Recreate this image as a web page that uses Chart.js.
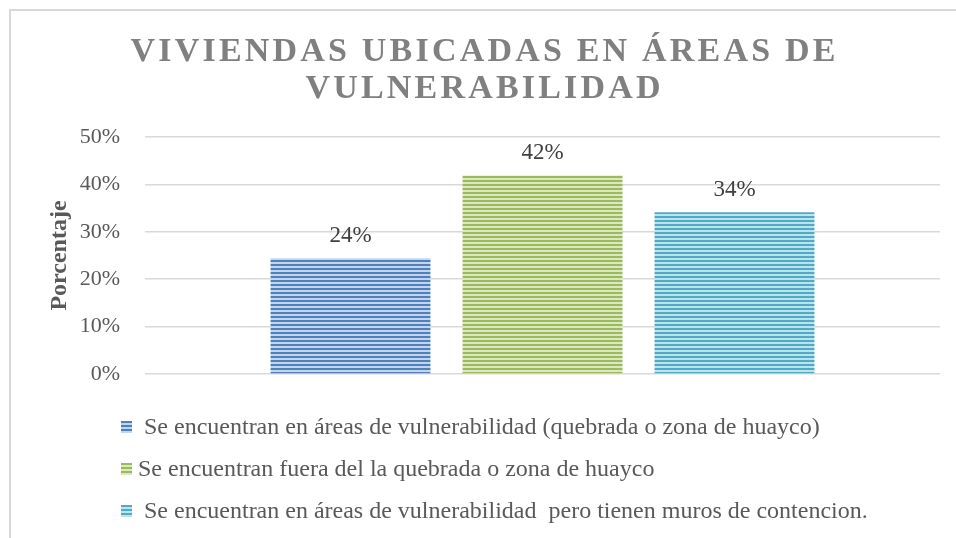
<!DOCTYPE html>
<html>
<head>
<meta charset="utf-8">
<script src="https://cdn.jsdelivr.net/npm/chart.js@4/dist/chart.umd.min.js"></script>
<style>
  html, body { margin: 0; padding: 0; background: #fff; }
  #wrap { position: relative; width: 956px; height: 538px; overflow: hidden; }
  #frame {
    position: absolute; left: 9px; top: 9px; right: -5px; bottom: -5px;
    border-left: 2px solid #d9d9d9; border-top: 2px solid #d9d9d9;
  }
  #title {
    position: absolute; left: 10px; width: 946px; top: 31px;
    text-align: center; font-family: "Liberation Serif", "Times New Roman", serif;
    font-weight: bold; font-size: 34px; line-height: 37px; letter-spacing: 3.2px;
    padding-left: 3.2px; box-sizing: border-box; color: #808080;
  }
  #chart { position: absolute; left: 0; top: 0; }
  #legend {
    position: absolute; left: 121px; top: 408px;
    font-family: "Liberation Serif", "Times New Roman", serif;
    font-size: 24px; color: #595959;
  }
  #legend .item { height: 42px; line-height: 36px; white-space: pre; }
  #legend .box { display: inline-block; width: 11px; height: 12px; vertical-align: 1px; }
</style>
</head>
<body>
<div id="wrap">
  <div id="frame"></div>
  <canvas id="chart" width="956" height="538"></canvas>
  <div id="title">VIVIENDAS UBICADAS EN ÁREAS DE<br>VULNERABILIDAD</div>
  <div id="legend"></div>
</div>
<script>
  // chart data
  const seriesNames = [
    "Se encuentran en áreas de vulnerabilidad (quebrada o zona de huayco)",
    "Se encuentran fuera del la quebrada o zona de huayco",
    "Se encuentran en áreas de vulnerabilidad  pero tienen muros de contencion."
  ];
  const seriesValues = [24.4, 41.9, 34.1];
  const darkColors = ["#4f81bd", "#9bbb59", "#4bacc6"];
  const lightColors = ["#c3d5ea", "#dce8c4", "#c0e2eb"];
  const yTicks = [0, 10, 20, 30, 40, 50];

  // legend text spacing as in the picture (the green one sits closer to its box)
  const legendGaps = [" ", "", " "];

  function stripes(dark, light) {
    const c = document.createElement("canvas");
    c.width = 8;
    c.height = 4;
    const g = c.getContext("2d");
    g.fillStyle = light;
    g.fillRect(0, 0, 8, 4);
    g.fillStyle = dark;
    g.fillRect(0, 0, 8, 2);
    return g.createPattern(c, "repeat");
  }

  const ctx = document.getElementById("chart").getContext("2d");

  const datasets = seriesNames.map((name, i) => ({
    label: name,
    data: [seriesValues[i]],
    backgroundColor: stripes(darkColors[i], lightColors[i]),
    borderWidth: 0,
    categoryPercentage: 0.7245,
    barPercentage: 0.833
  }));

  const valueLabels = {
    id: "valueLabels",
    afterDatasetsDraw(chart) {
      const c = chart.ctx;
      c.save();
      c.font = "23px 'Liberation Serif', 'Times New Roman', serif";
      c.fillStyle = "#404040";
      c.textAlign = "center";
      c.textBaseline = "alphabetic";
      chart.data.datasets.forEach((ds, i) => {
        const bar = chart.getDatasetMeta(i).data[0];
        c.fillText(Math.round(ds.data[0]) + "%", bar.x, bar.y - 16);
      });
      c.restore();
    }
  };

  const chart = new Chart(ctx, {
    type: "bar",
    data: { labels: [""], datasets: datasets },
    plugins: [valueLabels],
    options: {
      responsive: false,
      animation: false,
      layout: { padding: { top: 137, right: 16, bottom: 164, left: 0 } },
      plugins: {
        legend: { display: false },
        title: { display: false },
        tooltip: { enabled: false }
      },
      scales: {
        x: { display: false },
        y: {
          min: 0,
          max: 50,
          afterFit(scale) { scale.width = 145; },
          afterBuildTicks(scale) { scale.ticks = yTicks.map(v => ({ value: v })); },
          ticks: {
            padding: 25,
            color: "#595959",
            font: { family: "'Liberation Serif', 'Times New Roman', serif", size: 22 },
            callback: v => v + "%"
          },
          grid: { color: "#d9d9d9", lineWidth: 1.5, drawTicks: false },
          border: { display: false },
          title: {
            display: true,
            text: "Porcentaje",
            color: "#595959",
            padding: { top: 45, bottom: 0 },
            font: { family: "'Liberation Serif', 'Times New Roman', serif", size: 24, weight: "bold" }
          }
        }
      }
    }
  });

  // legend under the plot, one row per series
  const legend = document.getElementById("legend");
  seriesNames.forEach((name, i) => {
    const row = document.createElement("div");
    row.className = "item";
    const box = document.createElement("span");
    box.className = "box";
    box.style.background = `repeating-linear-gradient(to bottom, ${darkColors[i]} 0 2px, ${lightColors[i]} 2px 4px)`;
    row.appendChild(box);
    row.appendChild(document.createTextNode(legendGaps[i] + " " + name));
    legend.appendChild(row);
  });
</script>
</body>
</html>
